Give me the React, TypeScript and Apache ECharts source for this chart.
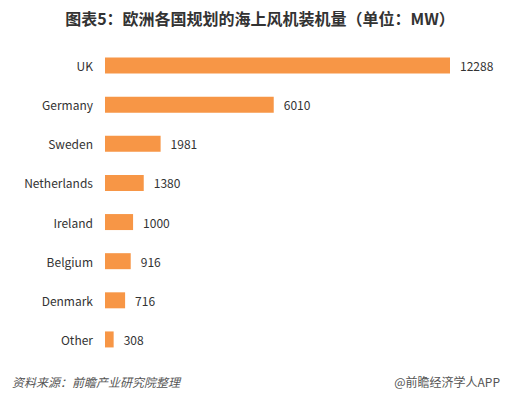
import React, { useEffect, useRef } from "react";
import * as echarts from "echarts";

const categories = ["UK", "Germany", "Sweden", "Netherlands", "Ireland", "Belgium", "Denmark", "Other"];
const values = [12288, 6010, 1981, 1380, 1000, 916, 716, 308];
const titleText = "图表5：欧洲各国规划的海上风机装机量（单位：MW）";
const sourceText = "资料来源：前瞻产业研究院整理";
const creditText = "@前瞻经济学人APP";

export default function App() {
  const ref = useRef<HTMLDivElement>(null);
  useEffect(() => {
    if (!ref.current) return;
    const chart = echarts.init(ref.current, null, { renderer: "svg" });
    const font = "'Noto Sans CJK SC', 'Noto Sans', sans-serif";
    chart.setOption({
      animation: false,
      backgroundColor: "#ffffff",
      title: {
        text: titleText,
        left: 255,
        textAlign: "center",
        top: 5,
        textStyle: { fontSize: 16, fontWeight: "bold", color: "#333", fontFamily: font },
      },
      grid: { left: 105, width: 345, top: 46, height: 313 },
      xAxis: {
        type: "value",
        min: 0,
        max: 12288,
        show: false,
      },
      yAxis: {
        type: "category",
        data: categories,
        inverse: true,
        axisLine: { show: false },
        axisTick: { show: false },
        splitLine: { show: false },
        axisLabel: { color: "#333", fontSize: 12, margin: 12, fontFamily: font },
      },
      series: [
        {
          type: "bar",
          data: values,
          barWidth: 16,
          itemStyle: { color: "#F79646" },
          label: {
            show: true,
            position: "right",
            distance: 10,
            color: "#333",
            fontSize: 12,
            fontFamily: font,
          },
        },
      ],
      graphic: [
        {
          type: "text",
          left: 12,
          top: 375,
          style: {
            text: sourceText,
            fontSize: 12,
            fontStyle: "italic",
            fill: "#555",
            fontFamily: font,
          },
        },
        {
          type: "text",
          right: 26,
          top: 375,
          style: {
            text: creditText,
            fontSize: 12,
            fill: "#555",
            fontFamily: font,
          },
        },
      ],
    });
    return () => chart.dispose();
  }, []);
  return <div ref={ref} style={{ width: 526, height: 396, position: "absolute", left: 0, top: 0 }} />;
}
